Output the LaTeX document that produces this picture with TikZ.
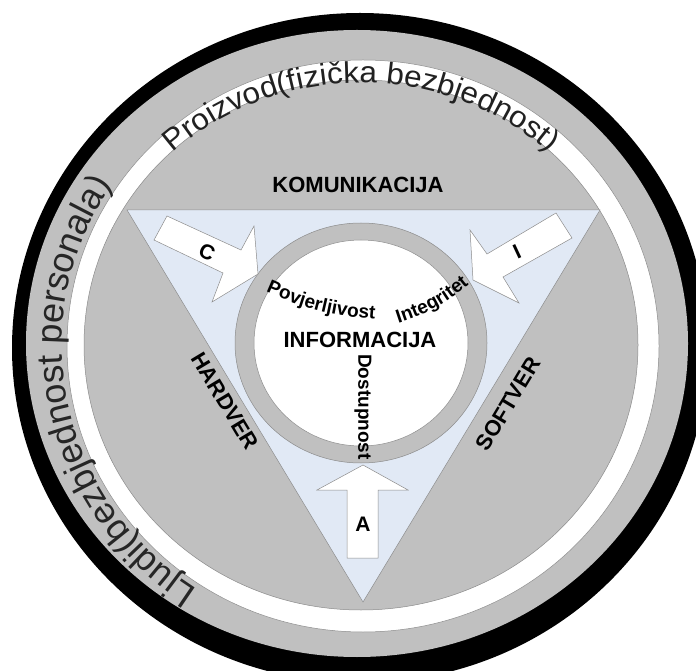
\documentclass[tikz,border=0pt]{standalone}
\usepackage{fontspec}
\setmainfont{Liberation Sans}
\newfontfamily\arcfontA[FakeStretch=1.05]{Liberation Sans}
\usetikzlibrary{decorations.text}
\definecolor{ringgray}{RGB}{192,192,192}
\definecolor{tribg}{RGB}{225,233,245}
\definecolor{edgegray}{RGB}{140,140,140}
\begin{document}
\begin{tikzpicture}[x=1pt,y=1pt,
  edge/.style={draw=edgegray, line width=0.5pt},
  arrowbox/.style={fill=white, draw=edgegray, line width=0.5pt},
  lbl/.style={font=\bfseries\fontsize{22}{22}\selectfont, inner sep=0pt},
  letter/.style={font=\bfseries\fontsize{21}{21}\selectfont, inner sep=0pt},
  small/.style={font=\bfseries\fontsize{19}{19}\selectfont, inner sep=0pt},
]
\useasboundingbox (0,0) rectangle (696,670);
% rings
\fill[black] (360,322) ellipse [x radius=348, y radius=335];
\fill[ringgray] (357,326.5) ellipse [x radius=331, y radius=313.5];
\filldraw[fill=white, edge] (363,324) ellipse [x radius=296, y radius=286];
\filldraw[fill=ringgray, edge] (361,325) ellipse [x radius=277, y radius=265];
% triangle
\filldraw[fill=tribg, edge] (127,460) -- (600,460) -- (363,68) -- cycle;
% inner ring
\filldraw[fill=ringgray, edge] (361,327) ellipse [x radius=126, y radius=120];
\filldraw[fill=white, edge] (361,327) ellipse [x radius=107, y radius=103];
% arrows
\filldraw[arrowbox] (167,454) -- (241,420) -- (254,444) -- (258,396) -- (212,368) -- (223,397) -- (154,430) -- cycle;
\filldraw[arrowbox] (556,457) -- (487,416) -- (470,440) -- (473,390) -- (519,367) -- (503,393) -- (572,432) -- cycle;
\filldraw[arrowbox] (363,205) -- (408,180) -- (378,180) -- (378,112) -- (347,112) -- (347,180) -- (317,180) -- cycle;
% labels
\node[letter, rotate=-25] (c) at (207,418) {C};
\node[letter, rotate=25] (i) at (517,418) {I};
\node[letter] (a) at (363,146) {A};
\node[lbl] (kom) at (358,485) {KOMUNIKACIJA};
\node[lbl] (info) at (360,330) {INFORMACIJA};
\node[lbl, rotate=-59] (hw) at (225,269) {HARDVER};
\node[lbl, rotate=59] (sw) at (508,266) {SOFTVER};
\node[small, rotate=-90] (dos) at (363,263) {Dostupnost};
% curved words
\path[decorate, decoration={text along path, text align=center,
  text={|\bfseries\fontsize{19}{19}\selectfont|Povjerljivost}}]
  (264,379) to[bend right=10] (377,351);
\path[decorate, decoration={text along path, text align=center,
  text={|\bfseries\fontsize{19}{19}\selectfont|Integritet}}]
  (396,346) to[bend right=11] (471,387);
% outer ring texts
\path[decorate, decoration={text along path, text align=center,
  text color=black!87,
  text={|\arcfontA\fontsize{30}{30}\selectfont|Proizvod(fizička bezbjednost)}}]
  (361,325) ++(155:277 and 262) arc[start angle=155, end angle=25, x radius=277, y radius=262];
\path[decorate, decoration={text along path, text align=center,
  text color=black!85,
  text={|\fontsize{36}{36}\selectfont|Ljudi(bezbjednost personala)}}]
  (363,324) ++(251.5:301 and 291) arc[start angle=251.5, end angle=131.5, x radius=301, y radius=291];
\end{tikzpicture}
\end{document}
